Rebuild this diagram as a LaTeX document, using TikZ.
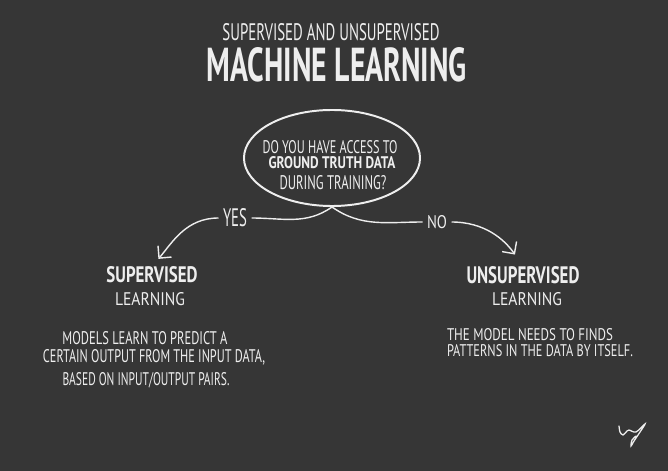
\documentclass[tikz,border=0pt]{standalone}
\usepackage{fontspec}
\setmainfont{PT Sans}
\usepackage{graphicx}
\usetikzlibrary{shapes.geometric,arrows.meta}
\definecolor{board}{RGB}{54,54,54}
\definecolor{chalk}{RGB}{238,238,238}
\newlength\pxu
\setlength\pxu{0.025cm}
\newcommand\hand[3]{\resizebox{#1\pxu}{#2\pxu}{#3}}

\begin{document}
\begin{tikzpicture}[x=0.025cm, y=0.025cm,
    txt/.style={inner sep=0pt, text=chalk},
    link/.style={draw=chalk, line width=1pt},
    tip/.style={-{Straight Barb[length=2.2mm,width=4.4mm]}}]
    \fill[board] (0, 0) rectangle (668, -471);
    \useasboundingbox (0, 0) rectangle (668, -471);
    \node[txt] (sub) at (331, -32) {\hand{217}{17}{SUPERVISED AND UNSUPERVISED}};
    \node[txt] (title) at (337, -65) {\hand{260}{34}{\bfseries MACHINE LEARNING}};
    \node[draw=chalk, line width=1.4pt, ellipse, minimum width=4.4cm, minimum height=2.4cm] (q) at (332, -158) {};
    \node[txt] (q1) at (330, -147) {\hand{135}{13}{DO YOU HAVE ACCESS TO}};
    \node[txt] (q2) at (332, -163) {\hand{127}{12}{\bfseries GROUND TRUTH DATA}};
    \node[txt] (q3) at (333, -183) {\hand{107}{14}{DURING TRAINING?}};
    \node[txt, inner sep=3pt] (yes) at (235, -218) {\hand{24}{18}{YES}};
    \node[txt, inner sep=3pt] (no) at (437, -222) {\hand{20}{13}{NO}};
    \node[txt] (sup) at (152, -275) {\hand{91}{16}{\bfseries SUPERVISED}};
    \node[txt] (supl) at (150, -299) {\hand{70}{13}{LEARNING}};
    \node[txt] (uns) at (523, -275) {\hand{113}{17}{\bfseries UNSUPERVISED}};
    \node[txt] (unsl) at (527, -299) {\hand{70}{13}{LEARNING}};
    \node[txt] (l1) at (145, -338) {\hand{165}{13}{MODELS LEARN TO PREDICT A}};
    \node[txt] (l2) at (154, -357) {\hand{222}{13}{CERTAIN OUTPUT FROM THE INPUT DATA,}};
    \node[txt] (l3) at (146, -380) {\hand{167}{13}{BASED ON INPUT/OUTPUT PAIRS.}};
    \node[txt] (r1) at (530, -335) {\hand{166}{12}{THE MODEL NEEDS TO FINDS}};
    \node[txt] (r2) at (540, -351) {\hand{186}{12}{PATTERNS IN THE DATA BY ITSELF.}};
    \draw[link] (q.south) to[out=215, in=0] (yes.east);
    \draw[link, tip, shorten >=2.5mm] (yes.west) to[out=180, in=50] (sup.north);
    \draw[link] (q.south) to[out=-35, in=180] (no.west);
    \draw[link, tip, shorten >=3.5mm] (no.east) to[out=0, in=125] (uns.north);
    \draw[chalk, line width=0.9pt, line cap=round] plot[smooth] coordinates {(619, -426) (620, -432) (623, -435) (627, -431) (629, -430) (636, -432) (645, -424) (640, -432) (634, -441) (631, -446) (632, -440) (636, -436)};
\end{tikzpicture}
\end{document}
